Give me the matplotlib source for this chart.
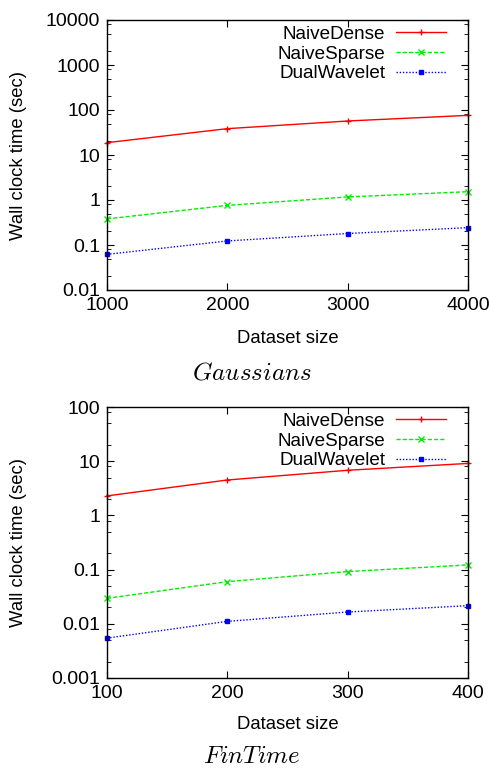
import matplotlib
matplotlib.use("Agg")
import matplotlib.pyplot as plt
from matplotlib.ticker import LogLocator, FixedLocator, NullFormatter

plt.rcParams['font.family'] = ['Liberation Sans', 'DejaVu Sans']
plt.rcParams['mathtext.fontset'] = 'cm'

# Gaussians benchmark
gauss_sizes = [1000, 2000, 3000, 4000]
gauss_dense = [18.8, 38.5, 57, 76]
gauss_sparse = [0.38, 0.76, 1.17, 1.53]
gauss_wavelet = [0.062, 0.123, 0.18, 0.243]
gauss_yticks = [0.01, 0.1, 1, 10, 100, 1000, 10000]
gauss_yticklabels = ['0.01', '0.1', '1', '10', '100', '1000', '10000']

# FinTime benchmark
fin_sizes = [100, 200, 300, 400]
fin_dense = [2.29, 4.5, 6.8, 9.1]
fin_sparse = [0.0295, 0.06, 0.092, 0.122]
fin_wavelet = [0.00545, 0.0111, 0.0165, 0.0216]
fin_yticks = [0.001, 0.01, 0.1, 1, 10, 100]
fin_yticklabels = ['0.001', '0.01', '0.1', '1', '10', '100']

series_names = ['NaiveDense', 'NaiveSparse', 'DualWavelet']

W, H = 490, 769
fig = plt.figure(figsize=(W / 100, H / 100), dpi=100)

styles = [
    dict(color='#ff0000', linestyle='-', marker='+', markersize=5, linewidth=1.0),
    dict(color='#00ee00', linestyle=(0, (3, 1.5)), marker='x', markersize=4, linewidth=1.0),
    dict(color='#0000ff', linestyle=(0, (1, 1.3)), marker='s', markersize=3, linewidth=1.0),
]


def panel(rect, sizes, series, yticks, ylabels, caption, caption_y, xlabel_y):
    ax = fig.add_axes(rect)
    for name, vals, st in zip(series_names, series, styles):
        ax.plot(sizes, vals, label=name, clip_on=False, **st)
    ax.set_yscale('log')
    ax.set_xlim(sizes[0], sizes[-1])
    ax.set_ylim(yticks[0], yticks[-1])
    ax.yaxis.set_major_locator(FixedLocator(yticks))
    ax.set_yticklabels(ylabels)
    ax.yaxis.set_minor_locator(LogLocator(base=10, subs=(2, 5, 8)))
    ax.yaxis.set_minor_formatter(NullFormatter())
    ax.set_xticks(sizes)
    ax.set_xticklabels([str(s) for s in sizes])
    ax.tick_params(which='both', direction='in', top=True, right=True, labelsize=14)
    ax.tick_params(which='major', length=5, width=0.8, pad=5)
    ax.tick_params(which='minor', length=3, width=0.6)
    for sp in ax.spines.values():
        sp.set_linewidth(1.0)
    ax.set_ylabel('Wall clock time (sec)', fontsize=13.3)
    ax.yaxis.set_label_coords(-0.222, 0.5)
    ax.set_xlabel('Dataset size', fontsize=13.3)
    ax.xaxis.set_label_coords(0.5, xlabel_y)
    fs = 13.6
    leg = ax.legend(loc='upper right', bbox_to_anchor=(0.949, 0.993), frameon=False,
                    markerfirst=False, fontsize=fs, handlelength=2.65,
                    labelspacing=0.13, handletextpad=0.55, borderpad=0.2,
                    borderaxespad=0.0)
    for t in leg.get_texts():
        t.set_ha('right')
    leg._legend_box.align = 'right'
    fig.text(0.513, caption_y, caption, ha='center', va='center', fontsize=18)
    return ax


panel([107 / W, 1 - 290 / H, 361 / W, 270 / H],
      gauss_sizes, [gauss_dense, gauss_sparse, gauss_wavelet],
      gauss_yticks, gauss_yticklabels, r'$Gaussians$', 1 - 373 / H, -0.148)
panel([107 / W, 1 - 678 / H, 361 / W, 271 / H],
      fin_sizes, [fin_dense, fin_sparse, fin_wavelet],
      fin_yticks, fin_yticklabels, r'$FinTime$', 1 - 756 / H, -0.14)

fig.savefig('out.png', dpi=100)
